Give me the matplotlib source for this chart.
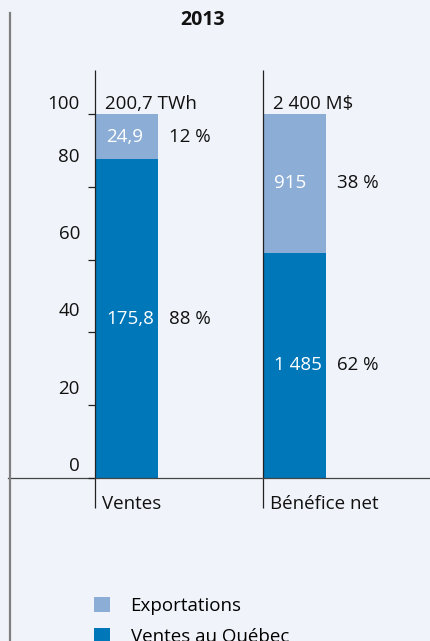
import matplotlib
matplotlib.use("Agg")
import matplotlib.pyplot as plt
from matplotlib.lines import Line2D
from matplotlib.patches import Patch

plt.rcParams['font.family'] = ['Open Sans', 'DejaVu Sans']

# ---- data ----
categories = ["Ventes", "Bénéfice net"]
totals_labels = ["200,7 TWh", "2 400 M$"]
quebec_values = [175.8, 1485]
export_values = [24.9, 915]
quebec_labels = ["175,8", "1 485"]
export_labels = ["24,9", "915"]
quebec_pct_labels = ["88 %", "62 %"]
export_pct_labels = ["12 %", "38 %"]
ytick_values = [0, 20, 40, 60, 80, 100]
ytick_labels = ["0", "20", "40", "60", "80", "100"]
legend_labels = ["Exportations", "Ventes au Québec"]
title = "2013"

# ---- style ----
BG = "#f0f3f9"
DARK = "#0077b8"
LIGHT = "#8badd6"
FS = 13.5
tick_label_offsets_px = [12, 16, 21, 26, 30, 10]

W, H = 431, 641
fig = plt.figure(figsize=(W / 100, H / 100), dpi=100, facecolor=BG)
ax = fig.add_axes([0, 0, 1, 1], facecolor=BG)

px_per_unit = 3.64
y0_px = 478
x0_px, step_px = 95, 168
ax.set_ylim(-(H - y0_px) / px_per_unit, y0_px / px_per_unit)
ax.set_xlim(-x0_px / step_px, (W - x0_px) / step_px)
for s in ax.spines.values():
    s.set_visible(False)
ax.set_xticks([])
ax.set_yticks([])

xs = list(range(len(categories)))
bw = 63.5 / step_px
totals = [q + e for q, e in zip(quebec_values, export_values)]
q_pct = [q / t * 100 for q, t in zip(quebec_values, totals)]
e_pct = [e / t * 100 for e, t in zip(export_values, totals)]

ax.bar(xs, q_pct, width=bw, align='edge', color=DARK, zorder=2)
ax.bar(xs, e_pct, bottom=q_pct, width=bw, align='edge', color=LIGHT, zorder=2)

# axis lines
top_y = (y0_px - 70) / px_per_unit
bot_y = -(508 - y0_px) / px_per_unit
ax.vlines(xs, bot_y, top_y, color="#222222", lw=0.9, zorder=3)
ax.axhline(0, xmin=8 / W, xmax=1, color="#444444", lw=0.9, zorder=3)
ax.hlines(ytick_values, -7 / step_px, 0, color="#222222", lw=0.9, zorder=3)

for v, lab, off in zip(ytick_values, ytick_labels, tick_label_offsets_px):
    ax.annotate(lab, (0, v), xytext=(-15, off), textcoords='offset pixels',
                ha='right', va='center', fontsize=FS, color="#111111")

for x, q, e, tl, ql, el, qp, ep, cat in zip(xs, q_pct, e_pct, totals_labels,
                                          quebec_labels, export_labels,
                                          quebec_pct_labels, export_pct_labels,
                                          categories):
    ax.annotate(tl, (x, 100), xytext=(10, 10), textcoords='offset pixels',
                ha='left', va='center', fontsize=FS, color="#111111")
    ax.annotate(ql, (x, q / 2), xytext=(11, 0), textcoords='offset pixels',
                ha='left', va='center', fontsize=FS, color="white")
    ax.annotate(el, (x, q + e / 2), xytext=(11, 0), textcoords='offset pixels',
                ha='left', va='center', fontsize=FS, color="white")
    ax.annotate(qp, (x + bw, q / 2), xytext=(11, 0), textcoords='offset pixels',
                ha='left', va='center', fontsize=FS, color="#111111")
    ax.annotate(ep, (x + bw, q + e / 2), xytext=(11, 0), textcoords='offset pixels',
                ha='left', va='center', fontsize=FS, color="#111111")
    ax.annotate(cat, (x, 0), xytext=(7, -26), textcoords='offset pixels',
                ha='left', va='center', fontsize=FS, color="#111111")

fig.text(203 / W, 1 - 20 / H, title, ha='center', va='center',
         fontsize=FS + 0.5, fontweight='bold', color="#111111")

fig.add_artist(Line2D([10 / W, 10 / W], [0, 1 - 13 / H], transform=fig.transFigure,
                      color="#7f7f7f", lw=1.6))

handles = [Patch(facecolor=LIGHT), Patch(facecolor=DARK)]
fig.legend(handles, legend_labels, loc='upper left',
           bbox_to_anchor=(94 / W, 1 - 597 / H), frameon=False,
           fontsize=FS, handlelength=0.85, handleheight=0.85,
           handletextpad=1.1, labelspacing=0.7, borderpad=0, borderaxespad=0)

fig.savefig("out.png", dpi=100, facecolor=BG)
